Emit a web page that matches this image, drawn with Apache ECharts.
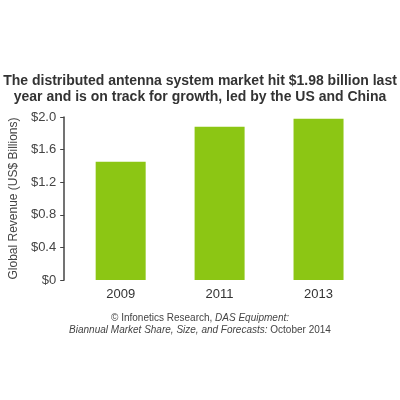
<!DOCTYPE html>
<html>
<head>
<meta charset="utf-8">
<script src="https://cdn.jsdelivr.net/npm/echarts@6/dist/echarts.min.js"></script>
<style>html,body{margin:0;padding:0;background:#fff;}#main{width:400px;height:400px;}</style>
</head>
<body>
<div id="main"></div>
<script>
var years = ['2009', '2011', '2013'];
var revenue = [1.45, 1.88, 1.98];
var yTicks = ['$0', '$0.4', '$0.8', '$1.2', '$1.6', '$2.0'];

var myChart = echarts.init(document.getElementById('main'));
var option = {
	animation: false,
	title: [
		{
			text: 'The distributed antenna system market hit $1.98 billion last\nyear and is on track for growth, led by the US and China',
			left: 'center',
			top: 68,
			textStyle: {fontSize: 14, fontWeight: 'bold', color: '#333', fontFamily: 'Liberation Sans', lineHeight: 16}
		},
		{
			text: '{n|© Infonetics Research, }{i|DAS Equipment:}\n{i|Biannual Market Share, Size, and Forecasts:}{n| October 2014}',
			left: 'center',
			top: 307,
			textStyle: {
				fontSize: 10, color: '#444', fontFamily: 'Liberation Sans', fontWeight: 'normal', lineHeight: 12,
				rich: {
					n: {fontSize: 10, color: '#444', fontFamily: 'Liberation Sans', lineHeight: 12},
					i: {fontSize: 10, color: '#444', fontFamily: 'Liberation Sans', fontStyle: 'italic', lineHeight: 12}
				}
			}
		}
	],
	grid: {left: 70, right: 32, top: 117, bottom: 120},
	xAxis: {
		type: 'category',
		data: years,
		axisLine: {show: false},
		axisTick: {show: false},
		axisLabel: {fontSize: 13, color: '#333', fontFamily: 'Liberation Sans', margin: 8}
	},
	yAxis: {
		type: 'value',
		min: 0,
		max: 2,
		interval: 0.4,
		offset: 7,
		name: 'Global Revenue (US$ Billions)',
		nameLocation: 'middle',
		nameGap: 40,
		nameTextStyle: {fontSize: 12, color: '#444', fontFamily: 'Liberation Sans'},
		splitLine: {show: false},
		axisLine: {show: true, lineStyle: {color: '#444', width: 1.5}},
		axisTick: {show: true, length: 4, lineStyle: {color: '#444'}},
		axisLabel: {
			fontSize: 13, color: '#444', fontFamily: 'Liberation Sans',
			formatter: function (v) { return yTicks[Math.round(v / 0.4)]; }
		}
	},
	series: [
		{
			type: 'bar',
			data: revenue,
			barWidth: 50,
			itemStyle: {color: '#8cc614'}
		}
	]
};
myChart.setOption(option);
</script>
</body>
</html>
